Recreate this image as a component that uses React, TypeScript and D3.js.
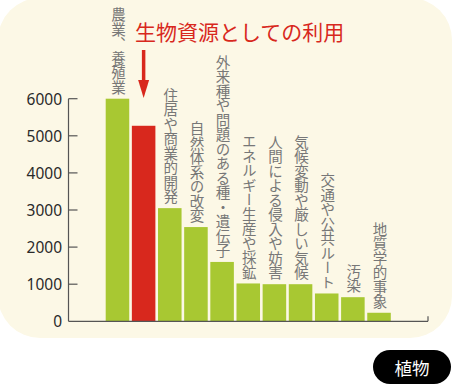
import React, { useEffect } from "react";
import * as d3 from "d3";

const categories = [
  "農業、養殖業",
  "生物資源としての利用",
  "住居や商業的開発",
  "自然体系の改変",
  "外来種や問題のある種・遺伝子",
  "エネルギー生産や採鉱",
  "人間による侵入や妨害",
  "気候変動や厳しい気候",
  "交通や公共ルート",
  "汚染",
  "地質学的事象",
];
const values = [6000, 5270, 3050, 2540, 1600, 1020, 1000, 1000, 750, 650, 230];
const yTicks = [0, 1000, 2000, 3000, 4000, 5000, 6000];
const highlightIndex = 1;
const badgeLabel = "植物";

const W = 454;
const H = 385;
const GREEN = "#a8c832";
const RED = "#d8281d";
const CJK = "'Noto Sans CJK JP', 'Noto Sans', sans-serif";

export default function App() {
  useEffect(() => {
    document.body.style.margin = "0";
  }, []);

  const x = d3
    .scaleBand<string>()
    .domain(categories)
    .range([105.7, 390.8])
    .paddingInner(0.1)
    .paddingOuter(0);
  const y = d3.scaleLinear().domain([0, 6000]).range([321.3, 98.7]);

  const axisX = 68.5;
  const axisEnd = 428;
  const hx = (x(categories[highlightIndex]) as number) + x.bandwidth() / 2;

  return (
    <svg
      width={W}
      height={H}
      style={{ position: "absolute", left: 0, top: 0, display: "block" }}
    >
      <rect x={0} y={0} width={W} height={H} fill="#ffffff" />
      <rect x={-2} y={-2} width={454} height={340} rx={42} fill="#fcf8e6" />

      {/* bars */}
      {categories.map((c, i) => (
        <rect
          key={c}
          x={x(c)}
          y={y(values[i])}
          width={x.bandwidth()}
          height={y(0) - y(values[i])}
          fill={i === highlightIndex ? RED : GREEN}
        />
      ))}

      {/* axes */}
      <line x1={axisX} y1={y(6000)} x2={axisX} y2={y(0)} stroke="#555" strokeWidth={1.2} />
      <line x1={axisX} y1={y(0)} x2={axisEnd} y2={y(0)} stroke="#555" strokeWidth={1.2} />
      <line x1={axisEnd} y1={y(0)} x2={axisEnd} y2={y(0) - 5} stroke="#555" strokeWidth={1.2} />
      {yTicks.map((t) => (
        <g key={t}>
          {t > 0 && (
            <line x1={axisX} y1={y(t)} x2={axisX + 9} y2={y(t)} stroke="#555" strokeWidth={1.2} />
          )}
          <text
            x={62}
            y={y(t)}
            textAnchor="end"
            dominantBaseline="central"
            fontFamily="'Noto Sans', sans-serif"
            fontSize={15.5}
            fill="#2a2a2a"
          >
            {t}
          </text>
        </g>
      ))}

      {/* vertical category labels */}
      {categories.map((c, i) =>
        i === highlightIndex ? null : (
          <text
            key={c}
            x={(x(c) as number) + x.bandwidth() / 2 + 1}
            y={y(values[i]) - 4}
            textAnchor="end"
            fontFamily={CJK}
            fontSize={14.5}
            fill="#777"
            style={{ writingMode: "vertical-rl", textOrientation: "upright" } as any}
          >
            {c}
          </text>
        )
      )}

      {/* highlighted title & arrow */}
      <text x={135} y={40} fontFamily={CJK} fontSize={21} fill={RED}>
        {categories[highlightIndex]}
      </text>
      <line x1={hx} y1={50} x2={hx} y2={84} stroke={RED} strokeWidth={3.5} />
      <path
        d={`M${hx - 5.5},${80} L${hx + 5.5},${80} L${hx},${98} Z`}
        fill={RED}
      />

      {/* badge */}
      <rect x={373} y={350} width={78} height={34} rx={17} fill="#000" />
      <text
        x={412}
        y={367.5}
        textAnchor="middle"
        dominantBaseline="central"
        fontFamily={CJK}
        fontSize={17.5}
        fill="#fff"
      >
        {badgeLabel}
      </text>
    </svg>
  );
}
